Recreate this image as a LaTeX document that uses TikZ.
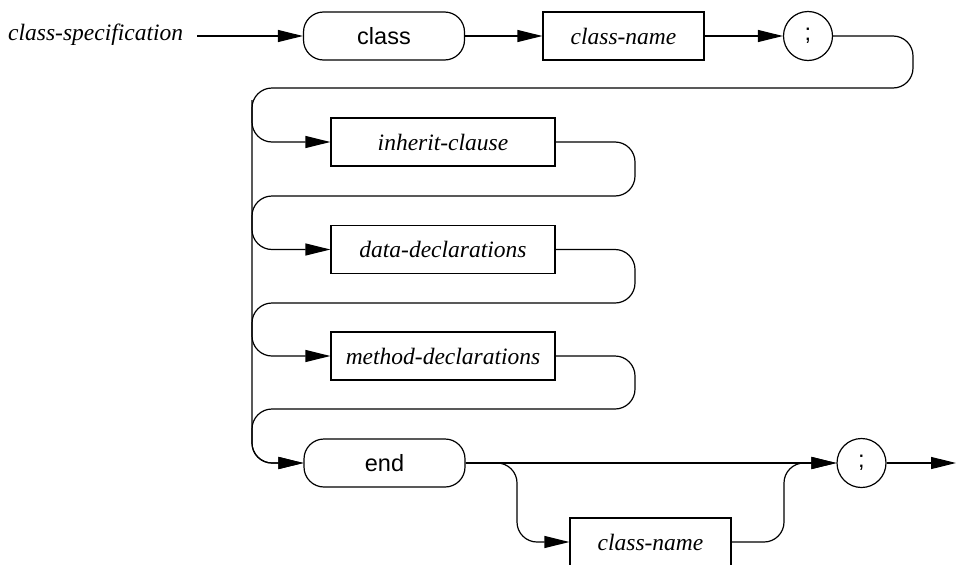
\documentclass[tikz,border=0pt]{standalone}
\usepackage{fontspec}
\setmainfont{Liberation Serif}
\setsansfont{Liberation Sans}
\usetikzlibrary{arrows.meta}
\tikzset{
  ln/.style={line width=1.2pt},
  arr/.style={ln, -{Triangle[length=25pt,width=12pt]}},
  rc/.style={rounded corners=20pt},
  nterm/.style={draw, ln, rectangle, minimum height=48pt, inner sep=0pt,
    font=\fontsize{23.5}{28}\selectfont\itshape},
  term/.style={draw, ln, rectangle, rounded corners=20pt, minimum height=48pt,
    minimum width=161pt, inner sep=0pt, font=\fontsize{23.5}{28}\selectfont\sffamily},
  sym/.style={draw, ln, circle, minimum size=49pt, inner sep=0pt,
    font=\fontsize{23.5}{28}\selectfont\sffamily},
  lbl/.style={inner sep=0pt, font=\fontsize{23.5}{28}\selectfont\itshape}
}
\begin{document}
\begin{tikzpicture}[x=1pt,y=-1pt]
\useasboundingbox (0,0) rectangle (956,565);
% nodes
\node[lbl, anchor=base west] (spec) at (8,40.5) {class-specification};
\node[term] (cls) at (384,36) {class};
\node[nterm, minimum width=161pt] (cn1) at (623.5,36) {class-name};
\node[sym] (semi1) at (808,36) {;};
\node[nterm, minimum width=224pt] (inh) at (443,142) {inherit-clause};
\node[nterm, minimum width=224pt] (data) at (443,249.5) {data-declarations};
\node[nterm, minimum width=224pt] (meth) at (443,356) {method-declarations};
\node[term] (endk) at (384.5,463) {end};
\node[sym] (semi2) at (861.5,463) {;};
\node[nterm, minimum width=161pt] (cn2) at (650.5,542) {class-name};
% coordinates
\coordinate (start) at (197,36);
\coordinate (t1) at (913,88);
\coordinate (l0) at (252,463);
\coordinate (l0top) at (252,100);
\coordinate (m1) at (635,196);
\coordinate (l1) at (252,249.5);
\coordinate (m2) at (635,303);
\coordinate (l2) at (252,356);
\coordinate (m3) at (635,409);
\coordinate (b1) at (517,542);
\coordinate (b2) at (784,463);
\coordinate (fin) at (956,463);
% connectors
\draw[arr] (start) -- (cls.west);
\draw[arr] (cls.east) -- (cn1.west);
\draw[arr] (cn1.east) -- (semi1.west);
\draw[arr, rc] (semi1.east) -| (t1) -| (l0) -- (endk.west);
\draw[arr, rc] (l0top) |- (inh.west);
\draw[arr, rc] (inh.east) -| (m1) -| (l1) -- (data.west);
\draw[arr, rc] (data.east) -| (m2) -| (l2) -- (meth.west);
\draw[arr, rc] (meth.east) -| (m3) -| (l0) -- (endk.west);
\draw[arr] (endk.east) -- (semi2.west);
\draw[arr, rc] (endk.east) -| (b1) -- (cn2.west);
\draw[arr, rc] (cn2.east) -| (b2) -- (semi2.west);
\draw[arr] (semi2.east) -- (fin);
\end{tikzpicture}
\end{document}
